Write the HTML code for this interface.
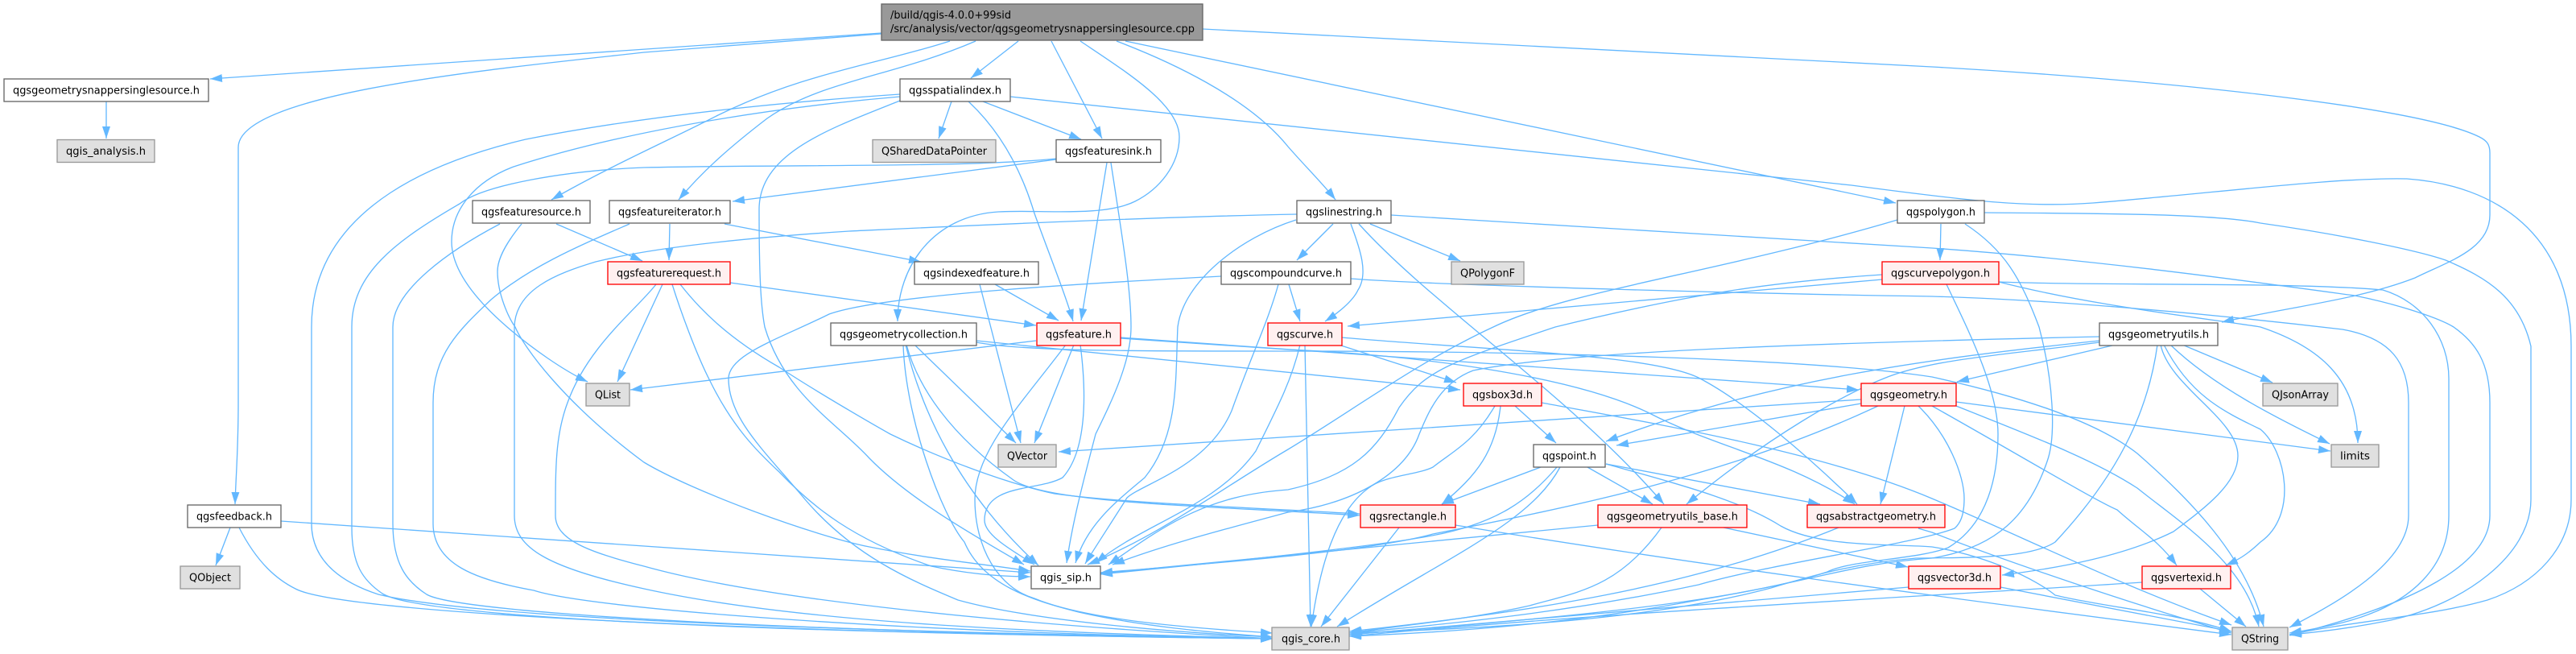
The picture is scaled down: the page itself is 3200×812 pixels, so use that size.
<!DOCTYPE html>
<html><head><meta charset="utf-8"><title>qgsgeometrysnappersinglesource.cpp include graph</title>
<style>
html,body{margin:0;padding:0;background:#fff}
svg{display:block}
.e path{fill:none;stroke:#63b8ff;stroke-width:1.33;marker-end:url(#a)}
rect{stroke-width:1.33}
.w{fill:#fff;stroke:#666}
.g{fill:#e0e0e0;stroke:#999}
.r{fill:#fff0f0;stroke:#f00}
.k{fill:#999;stroke:#666}
text{font-family:"DejaVu Sans",sans-serif;font-size:13px;fill:#000}
</style></head><body>
<svg xmlns="http://www.w3.org/2000/svg" width="3200" height="812" viewBox="0 0 3200 812">
<defs><marker id="a" markerUnits="userSpaceOnUse" markerWidth="16" markerHeight="12" refX="15" refY="5.5" orient="auto"><path d="M0,0.5L15,5.5L0,10.5z" fill="#63b8ff"/></marker></defs>
<g class="e">
<path d="M1095,41L261,98"/>
<path d="M1095,42L800,65C620,85 296,115 296,183L296,500C296,560 293,590 292,626"/>
<path d="M1180,51C1090,80 1000,90 892,143C840,170 760,205 685,248"/>
<path d="M1212,51C1110,95 1020,100 953,147C910,180 875,210 843,248"/>
<path d="M1265,51L1206,97"/>
<path d="M1306,51L1369,172"/>
<path d="M1342,51C1400,90 1465,130 1465,170C1465,205 1440,235 1410,250C1370,270 1290,260 1240,263C1160,268 1115,330 1115,399"/>
<path d="M1387,51C1450,75 1550,120 1600,182C1620,205 1645,230 1659,248"/>
<path d="M1398,51L2355,252"/>
<path d="M1494,36L2400,83C2650,97 3000,130 3080,170C3090,175 3093,180 3093,190L3093,267C3093,310 3040,325 3000,345C2930,372 2850,380 2760,400"/>
<path d="M132,126L132,172"/>
<path d="M1118,117C1000,125 820,140 653,173C560,195 387,250 387,406L387,650C387,700 430,725 470,738C600,770 1100,785 1581,793"/>
<path d="M1118,125C1030,160 943,190 943,260C943,340 945,380 950,406C975,490 1040,525 1080,569C1130,620 1210,665 1272,701"/>
<path d="M1118,120C1000,130 800,155 638,207C590,225 561,260 561,300C561,340 600,380 630,406C660,432 700,460 730,474"/>
<path d="M1182,126L1166,172"/>
<path d="M1221,126L1343,173"/>
<path d="M1203,126C1245,165 1270,215 1285,265C1305,320 1325,370 1333,399"/>
<path d="M1255,120L2300,230C2450,250 2520,258 2600,252C2750,240 2900,220 2990,222C3100,230 3194,290 3194,430L3194,620C3194,680 3150,725 3090,745C3020,765 2930,770 2844,788"/>
<path d="M1312,198L910,250"/>
<path d="M1375,202L1343,398"/>
<path d="M1380,202C1395,300 1405,360 1405,406C1405,450 1380,500 1361,539C1345,600 1332,650 1325,699"/>
<path d="M1312,197C1200,208 1000,204 800,208C700,212 600,230 571,253C490,300 437,340 437,406L437,655C437,700 450,720 475,737C520,765 900,785 1581,793"/>
<path d="M691,278L798,324"/>
<path d="M648,278C630,300 618,320 618,337C618,365 632,395 640,406C650,430 700,500 800,574C860,610 1010,665 1080,679C1160,695 1220,700 1280,709"/>
<path d="M621,278C560,310 488,360 488,406L488,650C488,700 505,722 530,738C570,762 1000,785 1581,793"/>
<path d="M832,278L831,323"/>
<path d="M900,278L1144,325"/>
<path d="M782,278C720,305 660,330 610,372C570,410 538,440 538,500L538,650C538,700 590,720 663,733C730,755 1100,785 1581,793"/>
<path d="M907,351L1287,404"/>
<path d="M823,353L767,474"/>
<path d="M815,353C790,385 730,430 705,500C690,540 690,580 690,640C690,670 730,685 800,703C950,745 1250,775 1581,793"/>
<path d="M835,353C845,385 865,440 882,473C910,530 940,560 968,586C1010,630 1060,670 1157,703C1200,712 1240,716 1280,716"/>
<path d="M845,353C870,385 905,420 968,456C1020,490 1090,530 1106,539C1170,570 1250,600 1310,613C1400,625 1550,630 1689,638"/>
<path d="M1236,353L1315,398"/>
<path d="M1217,353L1268,550"/>
<path d="M1517,343C1380,350 1100,365 1030,390C970,420 905,440 905,470C905,520 950,560 1000,620C1060,690 1130,720 1190,745C1280,770 1450,785 1581,791"/>
<path d="M1601,353L1615,399"/>
<path d="M1588,353C1575,400 1555,440 1530,510C1500,580 1420,600 1400,618C1380,650 1360,680 1348,700"/>
<path d="M1678,346C1800,355 2200,365 2400,368C2550,372 2750,390 2910,409C2970,420 2992,450 2992,500L2992,640C2992,700 2900,750 2844,779"/>
<path d="M1611,266C1400,270 1100,285 1055,287C900,297 800,310 740,325C690,340 640,360 639,406L639,640C639,680 680,705 800,731C1000,775 1300,785 1581,793"/>
<path d="M1610,273C1540,295 1470,350 1463,406C1460,470 1465,540 1422,593C1390,620 1350,650 1336,699"/>
<path d="M1656,278L1611,323"/>
<path d="M1678,278C1690,310 1700,340 1687,360C1680,375 1660,390 1646,399"/>
<path d="M1688,278C1780,380 1950,490 2067,626"/>
<path d="M1702,278L1814,324"/>
<path d="M1728,267L2400,308C2600,322 2800,350 2925,367C2980,378 3030,395 3048,406C3075,425 3093,450 3093,500L3093,640C3093,700 3000,750 2844,789"/>
<path d="M2411,278L2410,323"/>
<path d="M2357,273C2130,340 1950,360 1855,406C1760,450 1680,510 1600,558C1520,605 1440,665 1351,701"/>
<path d="M2441,278C2490,310 2510,345 2533,406C2550,470 2555,540 2543,573C2520,640 2480,680 2400,693C2300,700 2260,720 2110,745C1950,775 1800,785 1676,790"/>
<path d="M2465,264C2600,265 2750,265 2808,277C2900,290 3000,310 3038,323C3090,345 3130,370 3144,430L3144,620C3144,690 3060,750 2970,770C2920,780 2880,785 2844,788"/>
<path d="M2338,347L1674,405"/>
<path d="M2338,341C2200,350 2100,365 1932,406C1800,450 1770,460 1738,506C1710,560 1680,590 1600,608C1500,615 1450,650 1377,701"/>
<path d="M2418,353C2440,400 2482,480 2482,539C2482,590 2470,650 2420,680C2380,695 2300,695 2270,710C2150,750 1900,770 1676,788"/>
<path d="M2483,350C2600,355 2850,350 2960,360C3010,375 3042,420 3042,470L3042,640C3042,700 3000,750 2910,773C2890,778 2870,782 2844,786"/>
<path d="M2483,350C2600,380 2740,395 2808,406C2880,430 2929,470 2929,550"/>
<path d="M1621,428L1628,778"/>
<path d="M1615,428C1605,470 1590,500 1560,560C1510,630 1420,650 1361,699"/>
<path d="M1666,429L1809,475"/>
<path d="M1667,419C1850,435 2050,440 2110,469C2170,500 2250,570 2307,626"/>
<path d="M1392,420L1600,434C1750,440 1950,465 2049,513C2130,555 2220,570 2304,626"/>
<path d="M1213,425C1270,436 1400,436 1600,436C1900,436 2250,445 2400,468C2500,490 2600,520 2655,563C2720,620 2790,690 2812,778"/>
<path d="M1213,423L1814,484"/>
<path d="M1392,419L2309,484"/>
<path d="M1287,423L783,484"/>
<path d="M1334,428L1285,550"/>
<path d="M1324,428C1270,500 1211,560 1211,620C1211,680 1240,730 1285,743C1350,770 1480,780 1581,786"/>
<path d="M1342,428C1350,490 1350,560 1320,593C1290,610 1223,600 1223,646C1223,665 1260,685 1285,701"/>
<path d="M1136,428L1262,550"/>
<path d="M1125,428C1145,510 1190,610 1290,702"/>
<path d="M1122,428C1125,520 1170,640 1198,673C1220,725 1280,745 1340,760C1420,778 1500,785 1581,791"/>
<path d="M1126,428C1140,480 1180,540 1259,596C1300,625 1500,628 1689,640"/>
<path d="M2312,496L1315,561"/>
<path d="M2366,504L2336,626"/>
<path d="M2312,501L2008,553"/>
<path d="M2333,504C2150,590 1950,630 1780,663C1700,685 1500,700 1367,711"/>
<path d="M2430,504C2520,540 2600,570 2655,606C2710,650 2790,700 2806,778"/>
<path d="M2430,499L2895,560"/>
<path d="M2400,504C2500,560 2600,620 2630,633C2660,660 2680,670 2704,702"/>
<path d="M2383,504C2420,540 2440,590 2440,619C2440,640 2435,650 2428,656C2380,675 2200,700 2110,726C1950,760 1800,775 1676,786"/>
<path d="M1864,504C1858,560 1835,590 1791,626"/>
<path d="M1857,504C1830,550 1805,560 1780,580C1760,590 1720,590 1700,606C1660,635 1640,700 1629,778"/>
<path d="M1882,504L1933,550"/>
<path d="M1915,500C2050,525 2260,560 2400,619C2510,665 2640,730 2772,776"/>
<path d="M1914,580L1791,626"/>
<path d="M1934,580C1900,620 1860,650 1779,665C1700,680 1500,700 1367,713"/>
<path d="M1938,580C1900,650 1800,690 1661,778"/>
<path d="M1972,580L2053,626"/>
<path d="M1995,576L2261,626"/>
<path d="M1995,576C2080,600 2160,620 2212,653C2260,680 2350,675 2400,679C2470,690 2530,720 2553,739C2620,755 2700,760 2772,784"/>
<path d="M1738,655L1641,778"/>
<path d="M1808,652C2100,700 2400,740 2772,788"/>
<path d="M1985,652L1367,712"/>
<path d="M2064,655C2010,730 1960,735 1900,752C1820,770 1750,775 1677,786"/>
<path d="M2141,655L2370,704"/>
<path d="M2284,655C2100,730 1900,760 1676,784"/>
<path d="M2383,656L2400,661C2500,700 2650,750 2772,786"/>
<path d="M2371,729L1676,788"/>
<path d="M2485,729L2772,784"/>
<path d="M2661,723C2400,740 2000,760 1676,790"/>
<path d="M2733,731L2790,778"/>
<path d="M2624,429L2431,474"/>
<path d="M2711,428L2823,475"/>
<path d="M2696,428C2750,480 2830,520 2894,551"/>
<path d="M2688,428C2720,490 2760,510 2808,533C2840,560 2855,640 2808,673C2790,690 2780,695 2765,702"/>
<path d="M2684,428C2695,480 2780,520 2780,566C2780,600 2740,630 2700,660C2640,690 2560,705 2487,714"/>
<path d="M2680,428C2670,500 2640,580 2553,673C2520,695 2430,692 2380,693C2300,700 2250,715 2200,730C2050,770 1850,780 1676,786"/>
<path d="M2608,423C2400,445 2200,470 1995,548"/>
<path d="M2608,425C2500,440 2400,445 2340,470C2290,490 2200,540 2095,626"/>
<path d="M2608,418C2300,425 1950,435 1830,460C1790,475 1775,510 1763,539C1745,590 1680,625 1600,636C1530,655 1450,675 1382,701"/>
<path d="M286,655L268,702"/>
<path d="M349,647L1280,711"/>
<path d="M297,655C320,700 345,720 367,731C420,760 900,785 1581,793"/>
</g>
<g>
<rect class="k" x="1095" y="5" width="399" height="45"/>
<text x="1106" y="23" textLength="150" lengthAdjust="spacingAndGlyphs">/build/qgis-4.0.0+99sid</text>
<text x="1106" y="40" textLength="378" lengthAdjust="spacingAndGlyphs">/src/analysis/vector/qgsgeometrysnappersinglesource.cpp</text>

<rect class="w" x="5" y="98" width="254" height="28"/><text x="16" y="116.5" textLength="232" lengthAdjust="spacingAndGlyphs">qgsgeometrysnappersinglesource.h</text>
<rect class="g" x="71" y="173.5" width="121" height="28"/><text x="82" y="192" textLength="99" lengthAdjust="spacingAndGlyphs">qgis_analysis.h</text>
<rect class="w" x="587" y="249" width="146" height="28"/><text x="598" y="267.5" textLength="124" lengthAdjust="spacingAndGlyphs">qgsfeaturesource.h</text>
<rect class="w" x="757" y="249" width="150" height="28"/><text x="768" y="267.5" textLength="128" lengthAdjust="spacingAndGlyphs">qgsfeatureiterator.h</text>
<rect class="r" x="755" y="325" width="152" height="28"/><text x="766" y="343.5" textLength="130" lengthAdjust="spacingAndGlyphs">qgsfeaturerequest.h</text>
<rect class="w" x="1118" y="98" width="137" height="28"/><text x="1129" y="116.5" textLength="115" lengthAdjust="spacingAndGlyphs">qgsspatialindex.h</text>
<rect class="g" x="1084" y="173.5" width="153" height="28"/><text x="1095" y="192" textLength="131" lengthAdjust="spacingAndGlyphs">QSharedDataPointer</text>
<rect class="w" x="1312" y="173.5" width="130" height="28"/><text x="1323" y="192" textLength="108" lengthAdjust="spacingAndGlyphs">qgsfeaturesink.h</text>
<rect class="w" x="1136" y="325" width="154" height="28"/><text x="1147" y="343.5" textLength="132" lengthAdjust="spacingAndGlyphs">qgsindexedfeature.h</text>
<rect class="w" x="1517" y="325" width="161" height="28"/><text x="1528" y="343.5" textLength="139" lengthAdjust="spacingAndGlyphs">qgscompoundcurve.h</text>
<rect class="w" x="1032" y="401" width="181" height="28"/><text x="1043" y="419.5" textLength="159" lengthAdjust="spacingAndGlyphs">qgsgeometrycollection.h</text>
<rect class="r" x="1288" y="401" width="104" height="28"/><text x="1299" y="419.5" textLength="82" lengthAdjust="spacingAndGlyphs">qgsfeature.h</text>
<rect class="r" x="1575" y="401" width="92" height="28"/><text x="1586" y="419.5" textLength="70" lengthAdjust="spacingAndGlyphs">qgscurve.h</text>
<rect class="w" x="1611" y="249" width="117" height="28"/><text x="1622" y="267.5" textLength="95" lengthAdjust="spacingAndGlyphs">qgslinestring.h</text>
<rect class="g" x="1803" y="325" width="90" height="28"/><text x="1814" y="343.5" textLength="68" lengthAdjust="spacingAndGlyphs">QPolygonF</text>
<rect class="w" x="2357" y="249" width="108" height="28"/><text x="2368" y="267.5" textLength="86" lengthAdjust="spacingAndGlyphs">qgspolygon.h</text>
<rect class="r" x="2338" y="325" width="145" height="28"/><text x="2349" y="343.5" textLength="123" lengthAdjust="spacingAndGlyphs">qgscurvepolygon.h</text>
<rect class="w" x="2608" y="401" width="147" height="28"/><text x="2619" y="419.5" textLength="125" lengthAdjust="spacingAndGlyphs">qgsgeometryutils.h</text>
<rect class="g" x="728" y="476" width="54" height="28"/><text x="739" y="494.5" textLength="32" lengthAdjust="spacingAndGlyphs">QList</text>
<rect class="r" x="1818" y="476" width="97" height="28"/><text x="1829" y="494.5" textLength="75" lengthAdjust="spacingAndGlyphs">qgsbox3d.h</text>
<rect class="r" x="2312" y="476" width="118" height="28"/><text x="2323" y="494.5" textLength="96" lengthAdjust="spacingAndGlyphs">qgsgeometry.h</text>
<rect class="g" x="2811" y="476" width="93" height="28"/><text x="2822" y="494.5" textLength="71" lengthAdjust="spacingAndGlyphs">QJsonArray</text>
<rect class="g" x="1240" y="552" width="72" height="28"/><text x="1251" y="570.5" textLength="50" lengthAdjust="spacingAndGlyphs">QVector</text>
<rect class="w" x="1905" y="552" width="89" height="28"/><text x="1916" y="570.5" textLength="67" lengthAdjust="spacingAndGlyphs">qgspoint.h</text>
<rect class="g" x="2896" y="552" width="59" height="28"/><text x="2907" y="570.5" textLength="37" lengthAdjust="spacingAndGlyphs">limits</text>
<rect class="w" x="233" y="627" width="116" height="28"/><text x="244" y="645.5" textLength="94" lengthAdjust="spacingAndGlyphs">qgsfeedback.h</text>
<rect class="r" x="1690" y="627" width="118" height="28"/><text x="1701" y="645.5" textLength="96" lengthAdjust="spacingAndGlyphs">qgsrectangle.h</text>
<rect class="r" x="1985" y="627" width="185" height="28"/><text x="1996" y="645.5" textLength="163" lengthAdjust="spacingAndGlyphs">qgsgeometryutils_base.h</text>
<rect class="r" x="2245" y="627" width="171" height="28"/><text x="2256" y="645.5" textLength="149" lengthAdjust="spacingAndGlyphs">qgsabstractgeometry.h</text>
<rect class="g" x="224" y="703" width="74" height="28"/><text x="235" y="721.5" textLength="52" lengthAdjust="spacingAndGlyphs">QObject</text>
<rect class="w" x="1281" y="703" width="86" height="28"/><text x="1292" y="721.5" textLength="64" lengthAdjust="spacingAndGlyphs">qgis_sip.h</text>
<rect class="r" x="2371" y="703" width="114" height="28"/><text x="2382" y="721.5" textLength="92" lengthAdjust="spacingAndGlyphs">qgsvector3d.h</text>
<rect class="r" x="2661" y="703" width="110" height="28"/><text x="2672" y="721.5" textLength="88" lengthAdjust="spacingAndGlyphs">qgsvertexid.h</text>
<rect class="g" x="1580" y="779" width="96" height="28"/><text x="1592" y="797.5" textLength="73" lengthAdjust="spacingAndGlyphs">qgis_core.h</text>
<rect class="g" x="2773" y="779" width="69" height="28"/><text x="2784" y="797.5" textLength="47" lengthAdjust="spacingAndGlyphs">QString</text>
</g>
</svg>
</body></html>
